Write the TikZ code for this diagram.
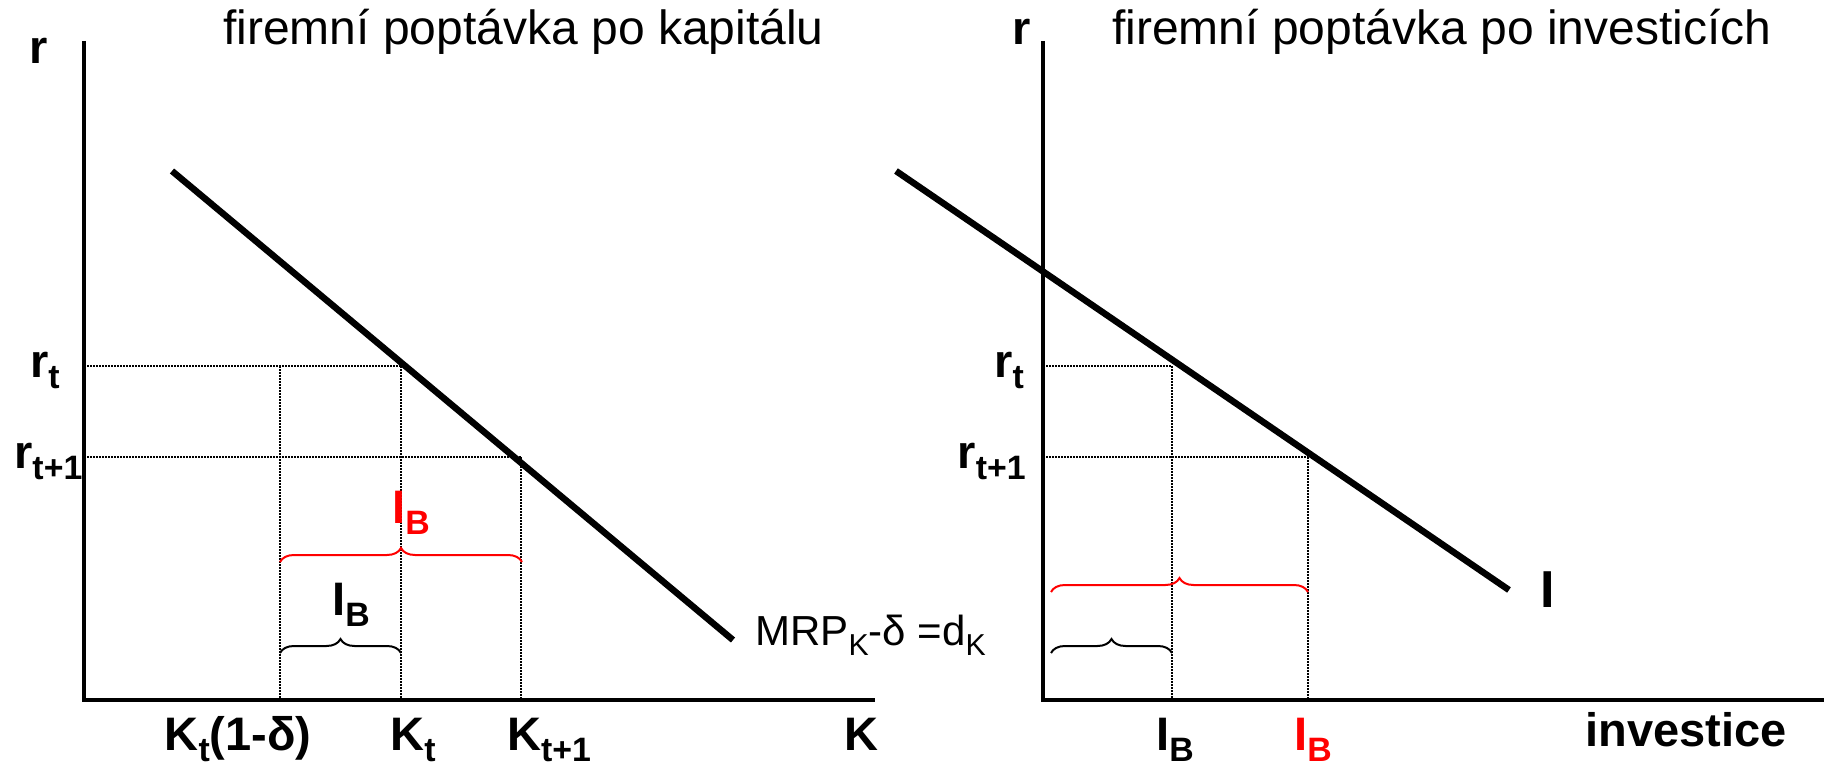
\documentclass[tikz,border=0pt]{standalone}
\usepackage{fontspec}
\setmainfont{Liberation Sans}
\usetikzlibrary{decorations.pathreplacing}
\newcommand\lo[1]{\raisebox{-0.25em}{\scalebox{0.72}{#1}}}
\definecolor{ired}{RGB}{255,0,0}
\tikzset{
  axisline/.style={line width=4pt},
  curveline/.style={line width=6.5pt},
  guide/.style={line width=1.4pt, dash pattern=on 1.5pt off 1.5pt},
  bracket/.style={decorate, decoration={brace, amplitude=14pt}, line width=2pt},
  titletext/.style={font=\fontsize{48}{48}\selectfont, inner sep=0pt},
  lbl/.style={font=\bfseries\fontsize{47}{47}\selectfont, inner sep=0pt},
  eqtext/.style={font=\fontsize{42}{42}\selectfont, inner sep=0pt},
}
\begin{document}
\begin{tikzpicture}[x=1pt,y=-1pt]
\useasboundingbox[fill=white] (0,0) rectangle (1824,770);
% ---------- left panel ----------
\coordinate (LO) at (84,700);
\coordinate (LT) at (84,41);
\coordinate (LE) at (875,700);
\draw[axisline] (LT) -- (84,702);
\draw[axisline] (82,700) -- (LE);
\coordinate (LA) at (172,171);
\coordinate (LB) at (733,640);
\draw[curveline] (LA) -- (LB);
\coordinate (Lrt) at (84,366);
\coordinate (Lrt1) at (84,457);
\coordinate (Pt) at (401,366);
\coordinate (Pt1) at (521,457);
\coordinate (Q0top) at (280,366);
\coordinate (Q0) at (280,700);
\coordinate (Qt) at (401,700);
\coordinate (Qt1) at (521,700);
\draw[guide] (Lrt) -- (Pt);
\draw[guide] (Lrt1) -- (Pt1);
\draw[guide] (Q0top) -- (Q0);
\draw[guide] (Pt) -- (Qt);
\draw[guide] (Pt1) -- (Qt1);
\coordinate (LRa) at (280,562);
\coordinate (LRb) at (522,562);
\coordinate (LKa) at (280,653);
\coordinate (LKb) at (401,653);
\draw[bracket, ired] (LRa) -- (LRb);
\draw[bracket] (LKa) -- (LKb);
\node[lbl, anchor=base west, text=ired] (lIBred) at (392,523) {I\lo{B}};
\node[lbl, anchor=base west] (lIB) at (332,615) {I\lo{B}};
\node[eqtext, anchor=base west] (mrp) at (755,645) {MRP\lo{K}-δ =d\lo{K}};
\node[lbl, anchor=base west] (lr) at (29,64) {r};
\node[titletext, anchor=base west] (ltitle) at (223,45) {firemní poptávka po kapitálu};
\node[lbl, anchor=base west] (lrt) at (30,377) {r\lo{t}};
\node[lbl, anchor=base west] (lrt1) at (14,468) {r\lo{t+1}};
\node[lbl, anchor=base] (xk0) at (238,750) {K\lo{t}(1-δ)};
\node[lbl, anchor=base] (xkt) at (413,750) {K\lo{t}};
\node[lbl, anchor=base] (xkt1) at (549,750) {K\lo{t+1}};
\node[lbl, anchor=base] (xk) at (861,750) {K};
% ---------- right panel ----------
\coordinate (RT) at (1043,41);
\coordinate (RE) at (1824,700);
\draw[axisline] (RT) -- (1043,702);
\draw[axisline] (1041,700) -- (RE);
\coordinate (RA) at (896,171);
\coordinate (RB) at (1509,590);
\draw[curveline] (RA) -- (RB);
\coordinate (Rrt) at (1043,366);
\coordinate (Rrt1) at (1043,457);
\coordinate (St) at (1172,366);
\coordinate (St1) at (1308,457);
\coordinate (Ut) at (1172,700);
\coordinate (Ut1) at (1308,700);
\draw[guide] (Rrt) -- (St);
\draw[guide] (Rrt1) -- (St1);
\draw[guide] (St) -- (Ut);
\draw[guide] (St1) -- (Ut1);
\coordinate (RRa) at (1051,592);
\coordinate (RRb) at (1308,592);
\coordinate (RKa) at (1051,653);
\coordinate (RKb) at (1172,653);
\draw[bracket, ired] (RRa) -- (RRb);
\draw[bracket] (RKa) -- (RKb);
\node[lbl, anchor=base west] (rr) at (1012,45) {r};
\node[titletext, anchor=base west] (rtitle) at (1112,45) {firemní poptávka po investicích};
\node[lbl, anchor=base east] (rrt) at (1024,377) {r\lo{t}};
\node[lbl, anchor=base east] (rrt1) at (1026,468) {r\lo{t+1}};
\node[lbl, anchor=base west, font=\bfseries\fontsize{52}{52}\selectfont] (il) at (1540,607) {I};
\node[lbl, anchor=base] (xib) at (1175,750) {I\lo{B}};
\node[lbl, anchor=base, text=ired] (xibred) at (1313,750) {I\lo{B}};
\node[lbl, anchor=base] (xinv) at (1686,746) {investice};
\end{tikzpicture}
\end{document}
